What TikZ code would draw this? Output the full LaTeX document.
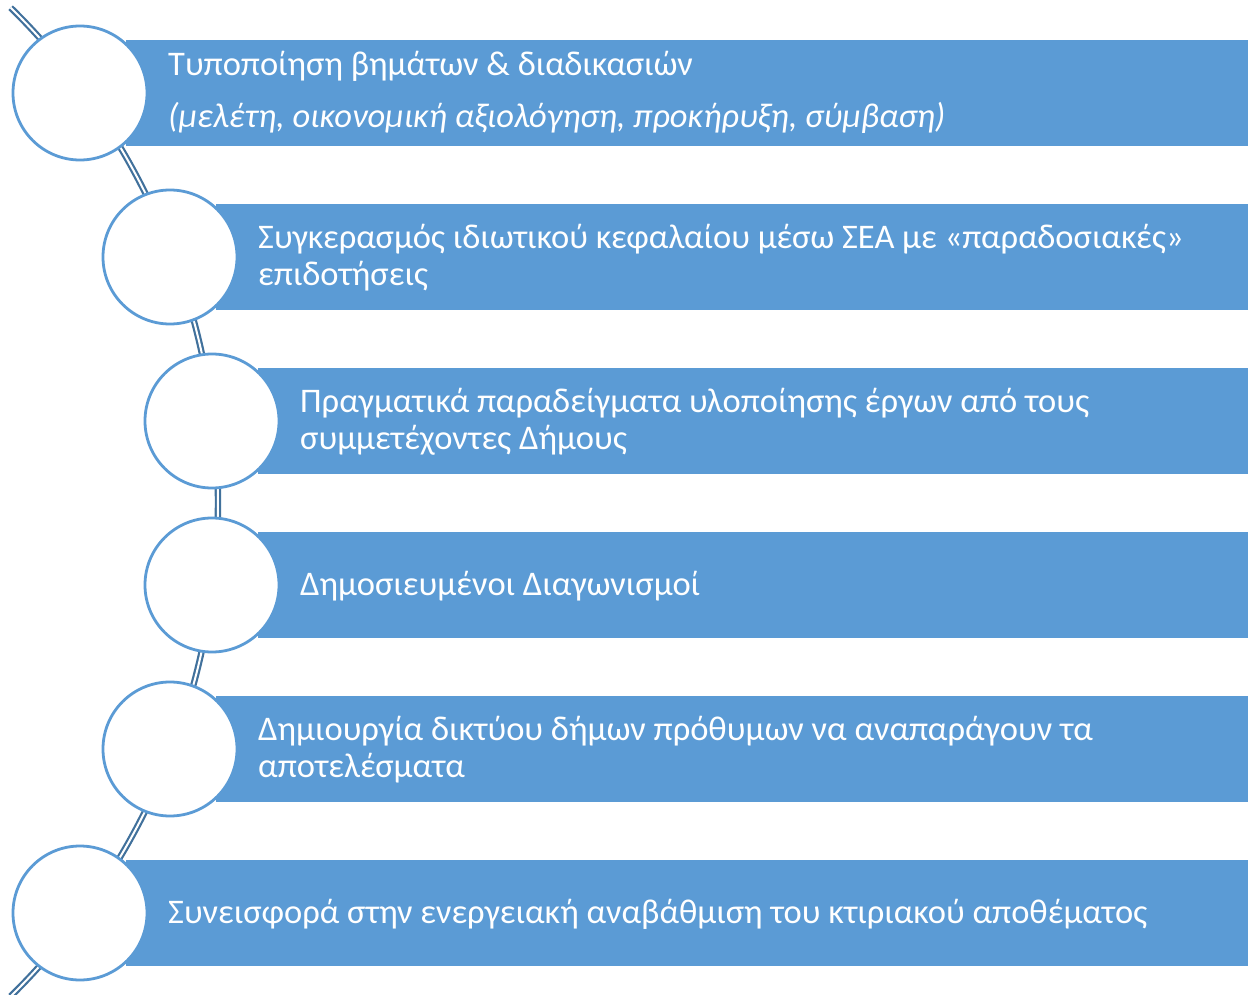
\documentclass[tikz,border=0pt]{standalone}
\usepackage{fontspec}
\setmainfont{Carlito}
\definecolor{barblue}{HTML}{5B9BD5}
\definecolor{arcblue}{HTML}{41719C}
\begin{document}
\begin{tikzpicture}[x=1pt,y=1pt,
  bar/.style={fill=barblue, draw=none, minimum height=106pt, inner sep=0pt, anchor=north west},
  ring/.style={circle, fill=white, draw=barblue, line width=2.8pt, minimum size=134pt, inner sep=0pt},
  txt/.style={anchor=base west, text=white, font=\fontsize{34.5}{40}\selectfont, inner sep=0pt},
  spine/.style={draw=arcblue, line width=2.2pt, double=white, double distance=2pt}]
\useasboundingbox (0,0) rectangle (1248,-995);
\fill[white] (0,0) rectangle (1248,-995);
% curved spine
\draw[spine] (-475,-502) ++(45.5:693) arc[start angle=45.5, end angle=-45.5, radius=693];
% bars
\node[bar, minimum width=1122pt] (b1) at (126,-40) {};
\node[bar, minimum width=1032pt] (b2) at (216,-204) {};
\node[bar, minimum width=990pt]  (b3) at (258,-368) {};
\node[bar, minimum width=990pt]  (b4) at (258,-532) {};
\node[bar, minimum width=1032pt] (b5) at (216,-696) {};
\node[bar, minimum width=1122pt] (b6) at (126,-860) {};
% circles
\node[ring] (c1) at (80,-93) {};
\node[ring] (c2) at (170,-257) {};
\node[ring] (c3) at (212,-421) {};
\node[ring] (c4) at (212,-585) {};
\node[ring] (c5) at (170,-749) {};
\node[ring] (c6) at (80,-913) {};
% texts
\node[txt] (t1a) at (168,-76) {Τυποποίηση βημάτων \& διαδικασιών};
\node[txt] (t1b) at (168,-128) {\itshape (μελέτη, οικονομική αξιολόγηση, προκήρυξη, σύμβαση)};
\node[txt] (t2a) at (258,-248) {Συγκερασμός ιδιωτικού κεφαλαίου μέσω ΣΕΑ με «παραδοσιακές»};
\node[txt] (t2b) at (258,-285) {επιδοτήσεις};
\node[txt] (t3a) at (300,-412) {Πραγματικά παραδείγματα υλοποίησης έργων από τους};
\node[txt] (t3b) at (300,-449) {συμμετέχοντες Δήμους};
\node[txt] (t4a) at (300,-595) {Δημοσιευμένοι Διαγωνισμοί};
\node[txt] (t5a) at (258,-740) {Δημιουργία δικτύου δήμων πρόθυμων να αναπαράγουν τα};
\node[txt] (t5b) at (258,-777) {αποτελέσματα};
\node[txt] (t6a) at (168,-923) {Συνεισφορά στην ενεργειακή αναβάθμιση του κτιριακού αποθέματος};
\end{tikzpicture}
\end{document}
